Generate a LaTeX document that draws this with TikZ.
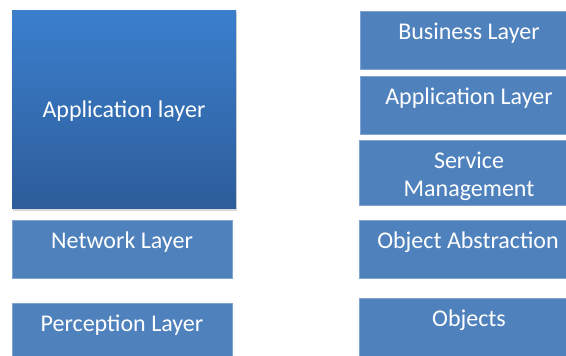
\documentclass[tikz,border=0pt]{standalone}
\usepackage{fontspec}
\setmainfont{Carlito}
\definecolor{boxblue}{HTML}{4F81BD}
\definecolor{boxedge}{HTML}{7FA3D3}
\definecolor{gradtop}{HTML}{3B7FCD}
\definecolor{gradbot}{HTML}{2D5D9A}
\begin{document}
\begin{tikzpicture}[x=1pt,y=-1pt,
  layerbox/.style={draw=boxedge,line width=0.8pt,fill=boxblue,inner sep=0pt},
  lbl/.style={text=white,font=\fontsize{24}{28}\selectfont,align=center,inner sep=0pt,anchor=center}]
\useasboundingbox (0,0) rectangle (566,356);
% left column
\path[fill=black!30,opacity=0.5] (13,12) rectangle (237,211);
\shade[top color=gradtop,bottom color=gradbot] (12,10) rectangle (236,208);
\node[lbl] (app) at (124,111) {Application layer};
\draw[layerbox] (12,220) rectangle (232,278);
\node[lbl] (net) at (122,242) {Network Layer};
\draw[layerbox] (12,303) rectangle (232,358);
\node[lbl] (per) at (122,325) {Perception Layer};
% right column
\draw[layerbox] (360,11) rectangle (568,69);
\node[lbl] (bus) at (469,33) {Business Layer};
\draw[layerbox] (360,76) rectangle (568,134);
\node[lbl] (appl) at (469,98) {Application Layer};
\draw[layerbox] (359,140) rectangle (568,205);
\node[lbl] (svc) at (469,176) {Service\\Management};
\draw[layerbox] (359,220) rectangle (568,278);
\node[lbl] (obj) at (468,242) {Object Abstraction};
\draw[layerbox] (359,298) rectangle (568,358);
\node[lbl] (objs) at (469,320) {Objects};
\end{tikzpicture}
\end{document}
